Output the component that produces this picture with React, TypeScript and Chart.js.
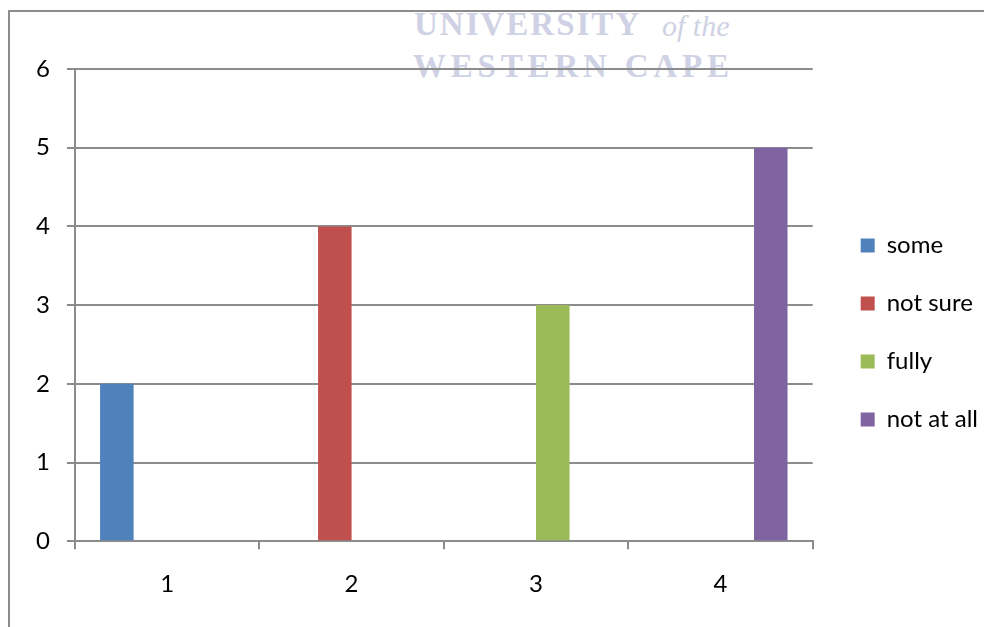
import React, { useEffect, useRef } from "react";
import { Chart, registerables } from "chart.js";

Chart.register(...registerables);

const categories = ["1", "2", "3", "4"];
const seriesNames = ["some", "not sure", "fully", "not at all"];
const someValues = [2, 0, 0, 0];
const notSureValues = [0, 4, 0, 0];
const fullyValues = [0, 0, 3, 0];
const notAtAllValues = [0, 0, 0, 5];
const yMin = 0;
const yMax = 6;
const yStep = 1;
const seriesColors = ["#4F81BD", "#C0504D", "#9BBB59", "#8064A2"];

const GRID = "#8c8c8c";
const FONT = "Lato";

export default function App() {
  const ref = useRef<HTMLCanvasElement | null>(null);

  useEffect(() => {
    if (!ref.current) return;
    const values = [someValues, notSureValues, fullyValues, notAtAllValues];
    const chart = new Chart(ref.current, {
      type: "bar",
      data: {
        labels: categories,
        datasets: seriesNames.map((name, i) => ({
          label: name,
          data: values[i],
          backgroundColor: seriesColors[i],
          borderWidth: 0,
          categoryPercentage: 4 / 5.5,
          barPercentage: 1,
        })),
      },
      options: {
        responsive: false,
        animation: false,
        devicePixelRatio: 1,
        layout: { padding: { left: 19, top: 45, bottom: 40, right: 0 } },
        plugins: {
          tooltip: { enabled: false },
          legend: {
            position: "right",
            labels: {
              boxWidth: 14,
              boxHeight: 14,
              padding: 34,
              color: "#000",
              font: { family: FONT, size: 24 },
            },
          },
        },
        scales: {
          x: {
            grid: {
              display: true,
              drawOnChartArea: false,
              drawTicks: true,
              tickLength: 8,
              color: GRID,
              lineWidth: 2,
              offset: true,
            },
            border: { display: true, color: GRID, width: 2 },
            ticks: { color: "#000", font: { family: FONT, size: 24 }, padding: 21 },
          },
          xT: {
            type: "category",
            position: "top",
            display: true,
            grid: { display: false },
            border: { display: false },
            ticks: { display: false },
            afterFit: (s: any) => {
              s.height = 24;
            },
          },
          y: {
            min: yMin,
            max: yMax,
            ticks: { stepSize: yStep, color: "#000", font: { family: FONT, size: 24 }, padding: 17 },
            grid: { color: GRID, lineWidth: 2, tickLength: 8, drawTicks: true },
            border: { display: true, color: GRID, width: 2 },
          },
          yR: {
            position: "right",
            display: true,
            grid: { display: false },
            border: { display: false },
            ticks: { display: false },
            afterFit: (s: any) => {
              s.width = 14;
            },
          },
        },
      },
    });
    return () => chart.destroy();
  }, []);

  const wm: React.CSSProperties = {
    position: "absolute",
    color: "#cfd2e4",
    fontFamily: "'Liberation Serif', 'DejaVu Serif', serif",
    whiteSpace: "nowrap",
  };

  return (
    <div style={{ position: "fixed", left: 0, top: 0, width: 984, height: 627, overflow: "hidden", background: "#fff" }}>
      <div
        style={{
          position: "absolute",
          left: 8,
          top: 10,
          width: 2000,
          height: 2000,
          borderLeft: `2px solid ${GRID}`,
          borderTop: `2px solid ${GRID}`,
        }}
      />
      <div style={{ ...wm, left: 414, top: 8, fontSize: 33, lineHeight: "33px", fontWeight: 700, letterSpacing: 2 }}>
        UNIVERSITY
      </div>
      <div style={{ ...wm, left: 662, top: 9, fontSize: 30, lineHeight: "33px", fontStyle: "italic" }}>of the</div>
      <div style={{ ...wm, left: 413, top: 50, fontSize: 33, lineHeight: "33px", fontWeight: 700, letterSpacing: 4.8 }}>
        WESTERN CAPE
      </div>
      <canvas ref={ref} width={988} height={660} style={{ position: "absolute", left: 0, top: 0, width: 988, height: 660 }} />
    </div>
  );
}
